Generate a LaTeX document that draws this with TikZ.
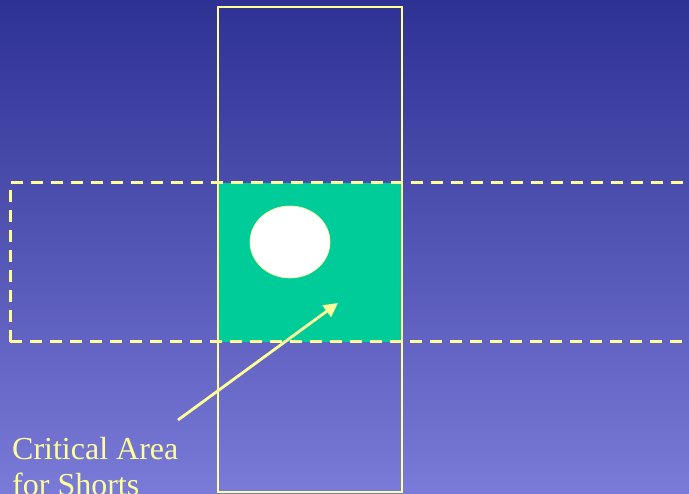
\documentclass[tikz,border=0pt]{standalone}
\usepackage{fontspec}
\setmainfont{Liberation Serif}
\usetikzlibrary{arrows.meta,shapes.geometric}
\definecolor{bgtop}{RGB}{46,50,146}
\definecolor{bgbot}{RGB}{122,122,216}
\definecolor{lineyel}{RGB}{255,255,153}
\definecolor{areagreen}{RGB}{0,204,153}
\tikzset{
  outline/.style={draw=lineyel, line width=2.6pt},
  dashbox/.style={draw=lineyel, line width=3pt, dash pattern=on 12pt off 8pt},
  label/.style={text=lineyel, font=\fontsize{32}{36}\selectfont, align=left, inner sep=0pt, anchor=north west}
}
\begin{document}
\begin{tikzpicture}[x=1pt,y=-1pt]
\shade[top color=bgtop, bottom color=bgbot] (0,0) rectangle (689,494);
\useasboundingbox (0,0) rectangle (689,494);
\fill[areagreen] (218,183) rectangle (402,342);
\draw[outline] (218,7) rectangle (402,492);
\draw[dashbox] (10,342) -- (10,183) -- (700,183);
\draw[dashbox] (10,342) -- (700,342);
\node[draw=lineyel, fill=white, ellipse, line width=0.6pt, minimum width=80pt, minimum height=72pt, inner sep=0pt] (hole) at (290,242) {};
\coordinate (tip) at (338,303);
\node[label] (lbl) at (12,437) {Critical Area\\for Shorts};
\coordinate (tail) at (178,420);
\draw[draw=lineyel, line width=2.8pt, -{Triangle[length=14pt,width=14pt]}] (tail) -- (tip);
\end{tikzpicture}
\end{document}
